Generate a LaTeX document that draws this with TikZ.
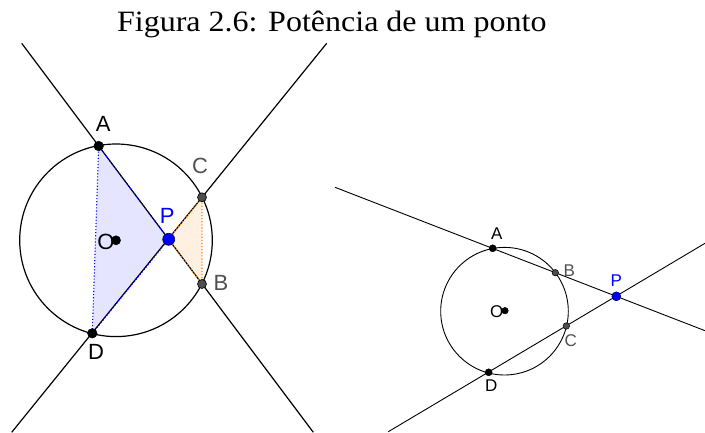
\documentclass[tikz,border=0pt]{standalone}
\usepackage{graphicx}
\usepackage{fontspec}
\setmainfont{Liberation Serif}
\newfontfamily\lblfont{Liberation Sans}
\definecolor{ptgray}{RGB}{77,77,77}
\definecolor{lblgray}{RGB}{80,80,80}
\definecolor{ggblue}{RGB}{0,0,255}
\definecolor{ggorange}{RGB}{255,127,0}
\definecolor{bluefill}{RGB}{229,229,255}
\definecolor{orangefill}{RGB}{255,240,226}
\tikzset{
  geoline/.style={black, line width=1.2pt},
  geolineS/.style={black, line width=0.9pt},
  ptL/.style={circle, fill=black, draw=black, line width=0.6pt, inner sep=0pt, minimum size=9.5pt},
  ptLg/.style={ptL, fill=ptgray, minimum size=9pt},
  ptLp/.style={ptL, fill=ggblue, draw=black!70!blue, minimum size=12pt},
  ptS/.style={circle, fill=black, draw=black, line width=0.5pt, inner sep=0pt, minimum size=7pt},
  ptSg/.style={ptS, fill=ptgray, minimum size=6.5pt},
  ptSp/.style={ptS, fill=ggblue, draw=black!70!blue, minimum size=9pt},
  lblL/.style={inner sep=0pt, font=\lblfont\fontsize{22}{22}\selectfont},
  lblS/.style={inner sep=0pt, font=\lblfont\fontsize{17}{17}\selectfont},
}
\begin{document}
\begin{tikzpicture}[x=1pt,y=-1pt]
\useasboundingbox (0,0) rectangle (705,433);
% title
\node[anchor=base, inner sep=0pt, font=\fontsize{29.5}{30}\selectfont] (title) at (331.8,32) {\scalebox{1.085}[1]{Figura 2.6: Potência de um ponto}};

% ===== left figure =====
\coordinate (lA) at (98.7,146);
\coordinate (lB) at (202,284);
\coordinate (lC) at (202,197.3);
\coordinate (lD) at (92.3,333.3);
\coordinate (lP) at (168.7,239.3);
\coordinate (lO) at (116,240.3);
\coordinate (l1a) at (21.7,43.3);
\coordinate (l1b) at (313.3,432.3);
\coordinate (l2a) at (326.7,43.3);
\coordinate (l2b) at (11.7,432.3);
\fill[bluefill] (lA) -- (lP) -- (lD) -- cycle;
\fill[orangefill] (lP) -- (lC) -- (lB) -- cycle;
\draw[geoline] (lO) circle[radius=96.3];
\draw[geoline] (l1a) -- (l1b);
\draw[geoline] (l2a) -- (l2b);
\draw[ggblue, line width=1.1pt, dotted] (lA) -- (lP) -- (lD) -- cycle;
\draw[ggorange, line width=1.1pt, dotted] (lP) -- (lC) -- (lB) -- cycle;
\node[ptL] (pA) at (lA) {};
\node[ptL] (pD) at (lD) {};
\node[ptL, minimum size=9pt] (pO) at (lO) {};
\node[ptLg] (pC) at (lC) {};
\node[ptLg] (pB) at (lB) {};
\node[ptLp] (pP) at (lP) {};
\node[lblL] (tA) at (103.3,124) {A};
\node[lblL, text=lblgray] (tC) at (200,166) {C};
\node[lblL, text=ggblue] (tP) at (167.3,216) {P};
\node[lblL, text=lblgray] (tB) at (221,282.7) {B};
\node[lblL] (tD) at (96,351.7) {D};
\node[lblL] (tO) at (106,241.7) {O};

% ===== right figure =====
\coordinate (rA) at (492.7,248.3);
\coordinate (rB) at (555.3,272.7);
\coordinate (rC) at (566.3,326);
\coordinate (rD) at (488.7,372.3);
\coordinate (rP) at (616.3,296.3);
\coordinate (rO) at (504.5,311.2);
\coordinate (r1a) at (335,187.3);
\coordinate (r1b) at (705,330.7);
\coordinate (r2a) at (388.3,431.7);
\coordinate (r2b) at (705,243.3);
\draw[geolineS] (rO) circle[radius=63.8];
\draw[geolineS] (r1a) -- (r1b);
\draw[geolineS] (r2a) -- (r2b);
\node[ptS] (qA) at (rA) {};
\node[ptS] (qD) at (rD) {};
\node[ptS, minimum size=6.5pt] (qO) at (505,310.7) {};
\node[ptSg] (qB) at (rB) {};
\node[ptSg] (qC) at (rC) {};
\node[ptSp] (qP) at (rP) {};
\node[lblS] (sA) at (496.7,233.3) {A};
\node[lblS, text=lblgray] (sB) at (569.3,271) {B};
\node[lblS, text=ggblue] (sP) at (616.3,280.7) {P};
\node[lblS, text=lblgray] (sC) at (570.7,341) {C};
\node[lblS] (sD) at (491.3,386) {D};
\node[lblS] (sO) at (496.7,311.7) {O};
\end{tikzpicture}
\end{document}
